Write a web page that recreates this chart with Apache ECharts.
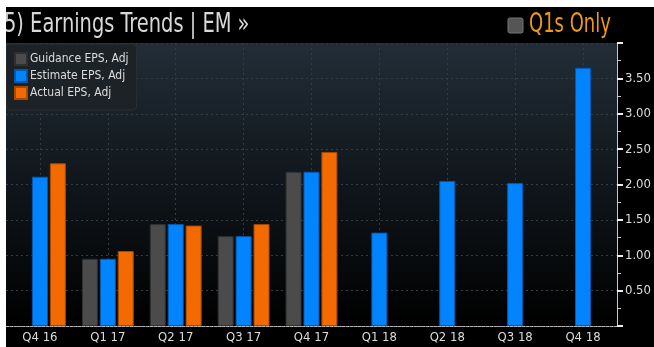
<!DOCTYPE html>
<html>
<head>
<meta charset="utf-8">
<script src="https://cdn.jsdelivr.net/npm/echarts@6/dist/echarts.min.js"></script>
<style>
  html, body { margin: 0; padding: 0; background: #fff; }
  #chart { width: 654px; height: 347px; }
</style>
</head>
<body>
<div id="chart"></div>
<script>
// quarters on the x axis
const quarters = ["Q4 16", "Q1 17", "Q2 17", "Q3 17", "Q4 17", "Q1 18", "Q2 18", "Q3 18", "Q4 18"];
// EPS values (null = no bar)
const guidanceEps = [null, 0.95, 1.44, 1.27, 2.18, null, null, null, null];
const estimateEps = [2.11, 0.95, 1.44, 1.27, 2.18, 1.32, 2.05, 2.02, 3.65];
const actualEps = [2.30, 1.06, 1.42, 1.44, 2.46, null, null, null, null];

const narrow = "'Liberation Sans Narrow', 'DejaVu Sans Condensed', sans-serif";

const chart = echarts.init(document.getElementById("chart"));

const barSeries = (name, data, color, border) => ({
  name: name,
  type: "bar",
  data: data,
  barWidth: 16,
  barGap: "12%",
  itemStyle: { color: color, borderColor: border, borderWidth: 1 },
});

chart.setOption({
  backgroundColor: "#000",
  animation: false,
  legend: {
    orient: "vertical",
    left: 6,
    top: 44,
    padding: [8, 8, 10, 8],
    itemWidth: 12,
    itemHeight: 12,
    itemGap: 3,
    backgroundColor: "#1d2227",
    borderColor: "#2b3036",
    borderWidth: 1,
    borderRadius: 4,
    icon: "rect",
    textStyle: { color: "#dcdcdc", fontSize: 12, fontFamily: narrow, padding: [0, 0, 0, -2] },
    data: ["Guidance EPS, Adj", "Estimate EPS, Adj", "Actual EPS, Adj"],
  },
  grid: {
    left: 6,
    right: 37,
    top: 43,
    bottom: 21,
    show: true,
    borderWidth: 0,
    backgroundColor: new echarts.graphic.LinearGradient(0, 0, 0, 1, [
      { offset: 0, color: "#222d37" },
      { offset: 0.5, color: "#10161b" },
      { offset: 1, color: "#000000" },
    ]),
  },
  xAxis: {
    type: "category",
    data: quarters,
    axisLine: { lineStyle: { color: "#b5b5b5", type: [3, 1] } },
    axisTick: { alignWithLabel: true, length: 5, lineStyle: { color: "#ddd" } },
    axisLabel: { color: "#dcdcdc", fontSize: 13, fontFamily: narrow, margin: 5 },
    splitLine: { show: true, alignWithLabel: true, lineStyle: { color: "#353b41", type: [2, 3] } },
  },
  yAxis: {
    type: "value",
    position: "right",
    min: 0,
    max: 4,
    interval: 0.5,
    axisLine: { show: true, lineStyle: { color: "#c8c8c8" } },
    axisTick: { show: true, length: 6, lineStyle: { color: "#eee", width: 2 } },
    minorTick: { show: true, splitNumber: 2, length: 4, lineStyle: { color: "#ccc" } },
    axisLabel: {
      color: "#dcdcdc",
      fontSize: 13,
      fontFamily: narrow,
      margin: 8,
      showMinLabel: false,
      showMaxLabel: false,
      formatter: (v) => v.toFixed(2),
    },
    splitLine: { lineStyle: { color: "#353b41", type: [2, 3] } },
  },
  series: [
    barSeries("Guidance EPS, Adj", guidanceEps, "#4b4b4b", "#303030"),
    barSeries("Estimate EPS, Adj", estimateEps, "#0284ff", "#0058b5"),
    barSeries("Actual EPS, Adj", actualEps, "#f26a00", "#a84800"),
  ],
  graphic: [
    {
      type: "text",
      x: 4,
      y: 11,
      scaleX: 0.8,
      style: { text: "5) Earnings Trends | EM \u00bb", fill: "#d8d8d8", font: "27px " + narrow },
    },
    {
      type: "rect",
      shape: { x: 508, y: 18, width: 15, height: 15, r: 2 },
      style: { fill: "#555", stroke: "#777", lineWidth: 1 },
    },
    {
      type: "text",
      x: 529,
      y: 11,
      scaleX: 0.74,
      style: { text: "Q1s Only", fill: "#f09a12", font: "27px " + narrow },
    },
    { type: "rect", z: 100, shape: { x: 0, y: 0, width: 654, height: 7 }, style: { fill: "#fff" } },
    { type: "rect", z: 100, shape: { x: 0, y: 0, width: 6, height: 347 }, style: { fill: "#fff" } },
  ],
});
</script>
</body>
</html>
